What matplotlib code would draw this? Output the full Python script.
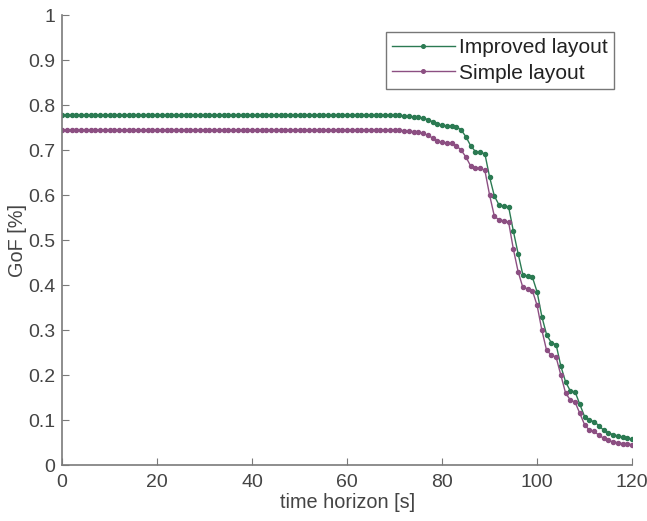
import matplotlib
matplotlib.use("Agg")
import matplotlib.pyplot as plt

plt.rcParams['font.family'] = ['Liberation Sans', 'DejaVu Sans']

# time horizon [s], one sample per second
time_s = list(range(0, 121))

improved = [
    0.778, 0.778, 0.778, 0.778, 0.778, 0.778, 0.778, 0.778, 0.778, 0.778,
    0.778, 0.778, 0.778, 0.778, 0.778, 0.778, 0.778, 0.778, 0.778, 0.778,
    0.778, 0.778, 0.778, 0.778, 0.778, 0.778, 0.778, 0.778, 0.778, 0.778,
    0.778, 0.778, 0.778, 0.778, 0.778, 0.778, 0.778, 0.778, 0.778, 0.778,
    0.778, 0.778, 0.778, 0.778, 0.778, 0.778, 0.778, 0.778, 0.778, 0.778,
    0.778, 0.778, 0.778, 0.778, 0.778, 0.778, 0.778, 0.778, 0.778, 0.778,
    0.778, 0.778, 0.778, 0.778, 0.778, 0.778, 0.778, 0.778, 0.778, 0.778,
    0.778, 0.777, 0.776, 0.775, 0.774, 0.773, 0.771, 0.768, 0.763, 0.758,
    0.755, 0.754, 0.754, 0.752, 0.745, 0.730, 0.710, 0.697, 0.695, 0.692,
    0.640, 0.598, 0.578, 0.576, 0.574, 0.520, 0.470, 0.423, 0.420, 0.418,
    0.385, 0.330, 0.290, 0.272, 0.268, 0.220, 0.185, 0.165, 0.163, 0.135,
    0.108, 0.100, 0.097, 0.088, 0.078, 0.072, 0.068, 0.065, 0.062, 0.060,
    0.058,
]

simple = [
    0.745, 0.745, 0.745, 0.745, 0.745, 0.745, 0.745, 0.745, 0.745, 0.745,
    0.745, 0.745, 0.745, 0.745, 0.745, 0.745, 0.745, 0.745, 0.745, 0.745,
    0.745, 0.745, 0.745, 0.745, 0.745, 0.745, 0.745, 0.745, 0.745, 0.745,
    0.745, 0.745, 0.745, 0.745, 0.745, 0.745, 0.745, 0.745, 0.745, 0.745,
    0.745, 0.745, 0.745, 0.745, 0.745, 0.745, 0.745, 0.745, 0.745, 0.745,
    0.745, 0.745, 0.745, 0.745, 0.745, 0.745, 0.745, 0.745, 0.745, 0.745,
    0.745, 0.745, 0.745, 0.745, 0.745, 0.745, 0.745, 0.745, 0.745, 0.745,
    0.745, 0.744, 0.743, 0.742, 0.741, 0.740, 0.737, 0.733, 0.727, 0.720,
    0.717, 0.716, 0.715, 0.710, 0.700, 0.685, 0.665, 0.660, 0.660, 0.655,
    0.600, 0.553, 0.545, 0.543, 0.540, 0.480, 0.430, 0.395, 0.392, 0.388,
    0.355, 0.300, 0.255, 0.245, 0.240, 0.200, 0.160, 0.145, 0.140, 0.115,
    0.090, 0.078, 0.075, 0.067, 0.060, 0.055, 0.052, 0.050, 0.048, 0.047,
    0.046,
]

x_ticks = [0, 20, 40, 60, 80, 100, 120]
y_ticks = [0, 0.1, 0.2, 0.3, 0.4, 0.5, 0.6, 0.7, 0.8, 0.9, 1]
y_tick_labels = ["0", "0.1", "0.2", "0.3", "0.4", "0.5", "0.6", "0.7", "0.8", "0.9", "1"]

green = "#2b7a52"
purple = "#8c4f82"
text_col = "#444444"
axis_col = "#7a7a7a"

fig = plt.figure(figsize=(6.47, 5.21), dpi=100)
ax = fig.add_axes([0.096, 0.107, 0.881, 0.864])

ax.plot(time_s, improved, color=green, lw=1.0, marker="o", ms=2.9,
        mec=green, mfc=green, label="Improved layout")
ax.plot(time_s, simple, color=purple, lw=1.0, marker="o", ms=2.9,
        mec=purple, mfc=purple, label="Simple layout")

ax.set_xlim(0, 120)
ax.set_ylim(0, 1)
ax.set_xticks(x_ticks)
ax.set_yticks(y_ticks)
ax.set_yticklabels(y_tick_labels)
ax.set_xlabel("time horizon [s]", fontsize=14.3, color=text_col, labelpad=2)
ax.set_ylabel("GoF [%]", fontsize=14.3, color=text_col, labelpad=1)

for side in ["top", "right"]:
    ax.spines[side].set_visible(False)
for side in ["left", "bottom"]:
    ax.spines[side].set_color(axis_col)
    ax.spines[side].set_linewidth(1.2)
ax.tick_params(direction="in", length=5, color=axis_col, labelsize=14,
               labelcolor=text_col)
ax.tick_params(axis="x", pad=6)
ax.tick_params(axis="y", pad=5)

leg = ax.legend(loc="upper right", bbox_to_anchor=(0.968, 0.962), fontsize=15,
                frameon=True, fancybox=False, edgecolor="#555555",
                handlelength=3.0, borderpad=0.3, labelspacing=0.3,
                handletextpad=0.2, markerscale=0.9, borderaxespad=0.0)
leg.get_frame().set_linewidth(1.0)
for t in leg.get_texts():
    t.set_color("#222222")

fig.savefig("out.png", dpi=100)
